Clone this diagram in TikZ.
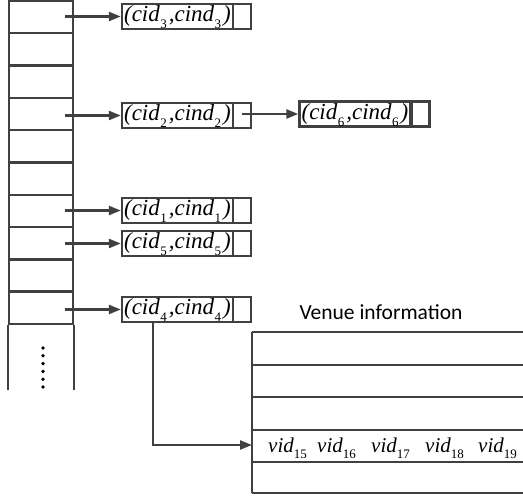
\documentclass[tikz,border=0pt]{standalone}
\usepackage{fontspec}
\setmainfont{Liberation Serif}
\newfontfamily\venuefont{Carlito}
\usetikzlibrary{arrows.meta}
\definecolor{lncol}{RGB}{64,64,64}
\newcommand\sbx[1]{\kern0.5pt\raisebox{-7pt}{\fontsize{13}{13}\selectfont\upshape #1}\kern2pt}
\newcommand\vsb[1]{\raisebox{-6pt}{\fontsize{13}{13}\selectfont\upshape #1}}
\newcommand\cc[1]{\fontsize{23}{23}\selectfont\itshape (cid\sbx{#1},cind\sbx{#1})}
\newcommand\vv[1]{\fontsize{21}{21}\selectfont\itshape vid\vsb{#1}}
\begin{document}
\begin{tikzpicture}[x=1pt,y=-1pt,
  lnsty/.style={draw=lncol,line width=2.4pt},
  cell/.style={lnsty,minimum width=64pt,minimum height=32.3pt,inner sep=0pt},
  rec/.style={lnsty,minimum width=111pt,minimum height=25pt,inner sep=0pt,text height=16pt,text depth=5pt},
  ptr/.style={lnsty,minimum width=18pt,minimum height=25pt,inner sep=0pt},
  arr/.style={lnsty,-{Triangle[length=12pt,width=9pt]}},
  vtxt/.style={anchor=base west,inner sep=0pt}]
\useasboundingbox (0,0) rectangle (523,500);
% left column
\foreach \i in {1,...,10}{
  \node[cell] (r\i) at (41,{1+32.3*(\i-0.5)}) {};
}
\draw[lnsty] (r10.south west) -- ++(0,65);
\draw[lnsty] (r10.south east) -- ++(0,65);
\foreach \k in {0,...,5}{
  \fill (43,{348+7.8*\k}) circle (1.9pt);
}
% records
\node[rec] (b3) at (177.5,16.5) {\cc{3}};
\node[ptr] (c3) at (242,16.5) {};
\node[rec] (b2) at (177.5,115.5) {\cc{2}};
\node[ptr] (c2) at (242,115.5) {};
\node[rec] (b6) at (355,114) {\cc{6}};
\node[ptr] (c6) at (420.5,114) {};
\node[rec] (b1) at (177.5,210.5) {\cc{1}};
\node[ptr] (c1) at (242,210.5) {};
\node[rec] (b5) at (177.5,243.5) {\cc{5}};
\node[ptr] (c5) at (242,243.5) {};
\node[rec] (b4) at (177.5,309.5) {\cc{4}};
\node[ptr] (c4) at (242,309.5) {};
% arrows from column
\draw[arr] ([xshift=24pt]r1.center |- b3.west) -- (b3.west);
\draw[arr] ([xshift=24pt]r4.center |- b2.west) -- (b2.west);
\draw[arr] ([xshift=24pt]r7.center |- b1.west) -- (b1.west);
\draw[arr] ([xshift=24pt]r8.center |- b5.west) -- (b5.west);
\draw[arr] ([xshift=24pt]r10.center |- b4.west) -- (b4.west);
\draw[arr] (c2.center |- b6.west) -- (b6.west);
% venue table
\node[font=\venuefont\fontsize{21.5}{21.5}\selectfont] (vt) at (381,312) {Venue information};
\draw[lnsty] (252,332) -- (252,493);
\foreach \yy in {332,365,397,430,462,493}{
  \draw[lnsty] (252,\yy) -- (523,\yy);
}
\coordinate (v4w) at (252,445);
\coordinate (turn) at (153,445);
\draw[arr] (b4.south -| turn) -- (turn) -- (v4w);
\node[vtxt] (t15) at (268,452) {\vv{15}};
\node[vtxt] (t16) at (317,452) {\vv{16}};
\node[vtxt] (t17) at (371,452) {\vv{17}};
\node[vtxt] (t18) at (425,452) {\vv{18}};
\node[vtxt] (t19) at (478,452) {\vv{19}};
\end{tikzpicture}
\end{document}
